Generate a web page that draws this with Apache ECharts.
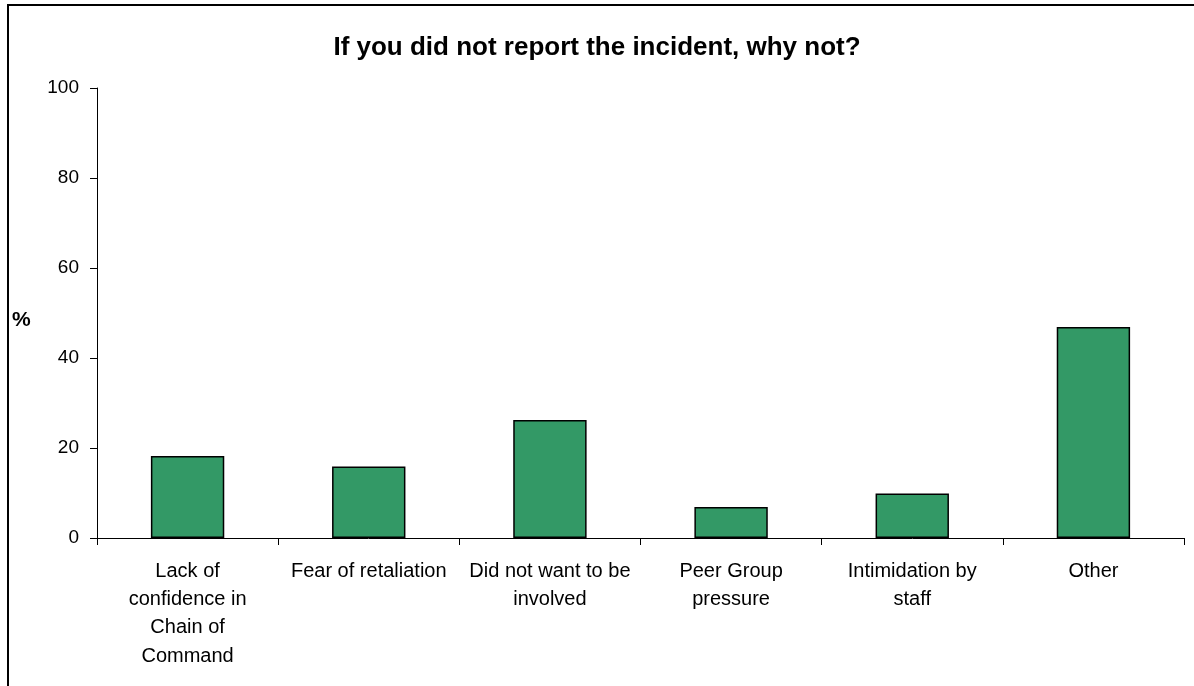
<!DOCTYPE html>
<html>
<head>
<meta charset="utf-8">
<script src="https://cdn.jsdelivr.net/npm/echarts@6/dist/echarts.min.js"></script>
<style>
  html, body { margin: 0; padding: 0; background: #fff; }
  #chart { width: 1194px; height: 686px; }
</style>
</head>
<body>
<div id="chart"></div>
<script>
// Reasons given for not reporting an incident (% of respondents)
const categories = [
  'Lack of\nconfidence in\nChain of\nCommand',
  'Fear of retaliation',
  'Did not want to be\ninvolved',
  'Peer Group\npressure',
  'Intimidation by\nstaff',
  'Other'
];
const percentValues = [18.2, 15.9, 26.2, 6.9, 9.9, 46.9];
const yTicks = { min: 0, max: 100, interval: 20 };

const FONT = 'Liberation Sans, Arial, sans-serif';

const chart = echarts.init(document.getElementById('chart'), null, { renderer: 'canvas' });
chart.setOption({
  backgroundColor: '#ffffff',
  animation: false,
  title: {
    text: 'If you did not report the incident, why not?',
    left: 'center',
    top: 30,
    textStyle: { fontFamily: FONT, fontSize: 26, fontWeight: 'bold', color: '#000' }
  },
  graphic: [
    // chart frame: left and top edges
    { type: 'line', shape: { x1: 8, y1: 5, x2: 8, y2: 700 }, style: { stroke: '#000', lineWidth: 2 } },
    { type: 'line', shape: { x1: 7, y1: 5, x2: 1200, y2: 5 }, style: { stroke: '#000', lineWidth: 2 } },
    // value axis title
    {
      type: 'text', left: 12, top: 310,
      style: { text: '%', fontFamily: FONT, fontSize: 21, fontWeight: 'bold', fill: '#000' }
    }
  ],
  grid: { left: 97, right: 10, top: 88, bottom: 148, containLabel: false },
  xAxis: {
    type: 'category',
    data: categories,
    boundaryGap: true,
    axisLine: { lineStyle: { color: '#000', width: 1 } },
    axisTick: { show: true, alignWithLabel: false, length: 7, lineStyle: { color: '#000' } },
    axisLabel: {
      interval: 0,
      margin: 19,
      color: '#000',
      fontFamily: FONT,
      fontSize: 20,
      lineHeight: 28.3
    }
  },
  yAxis: {
    type: 'value',
    min: yTicks.min,
    max: yTicks.max,
    interval: yTicks.interval,
    axisLine: { show: true, lineStyle: { color: '#000', width: 1 } },
    axisTick: { show: true, length: 7, lineStyle: { color: '#000' } },
    splitLine: { show: false },
    axisLabel: { color: '#000', fontFamily: FONT, fontSize: 19, margin: 18 }
  },
  series: [{
    type: 'bar',
    data: percentValues,
    barWidth: '40.5%',
    itemStyle: { color: '#339966', borderColor: '#000', borderWidth: 1.5 }
  }]
});
</script>
</body>
</html>
